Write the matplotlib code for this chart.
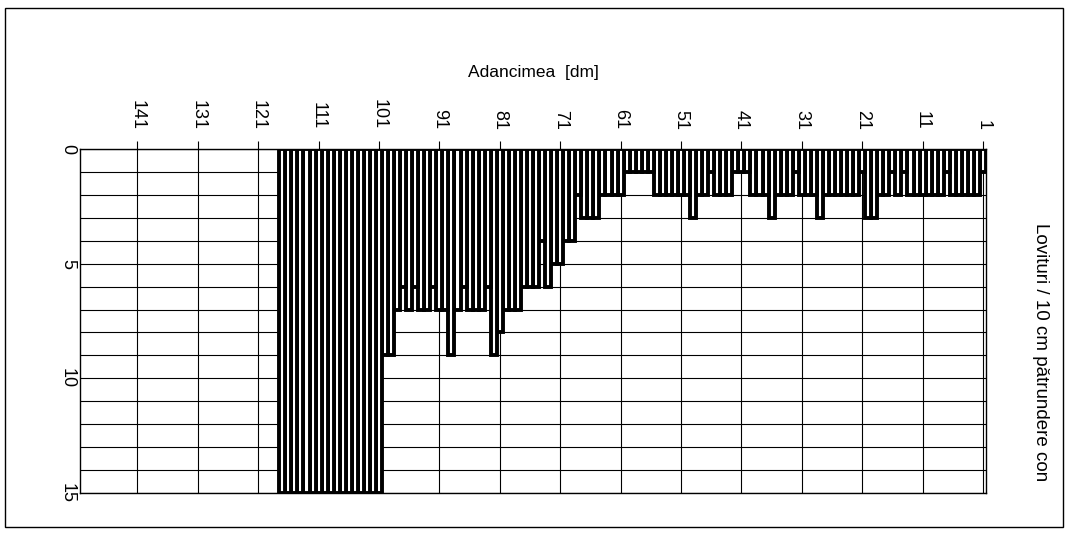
import matplotlib.pyplot as plt
from matplotlib.patches import Rectangle

plt.rcParams['font.family'] = ['Liberation Sans', 'DejaVu Sans']

# depth in dm (1 .. 117) and blows per 10 cm of cone penetration
depth = list(range(1, 118))
blows = [1, 2, 2, 2, 2, 2, 1, 2, 2, 2,
         2, 2, 2, 1, 2, 1, 2, 2, 3, 3,
         1, 2, 2, 2, 2, 2, 2, 3, 2, 2,
         2, 1, 2, 2, 2, 3, 2, 2, 2, 1,
         1, 1, 2, 2, 2, 1, 2, 2, 3, 2,
         2, 2, 2, 2, 2, 1, 1, 1, 1, 1,
         2, 2, 2, 2, 3, 3, 3, 2, 4, 4,
         5, 5, 6, 4, 6, 6, 6, 7, 7, 7,
         8, 9, 6, 7, 7, 7, 6, 7, 9, 7,
         7, 6, 7, 7, 6, 7, 6, 7, 9, 9,
         15, 15, 15, 15, 15, 15, 15, 15, 15, 15,
         15, 15, 15, 15, 15, 15, 15]

depth_ticks = list(range(1, 151, 10))
blow_ticks = [0, 5, 10, 15]

fig = plt.figure(figsize=(10.69, 5.33), dpi=100)
ax = fig.add_axes([80 / 1069, 1 - 493 / 533, 906 / 1069, 344 / 533])

ax.bar(depth, blows, width=1.0, color='white', edgecolor='black',
       linewidth=2.8, zorder=2)

ax.set_xlim(150.5, 0.5)
ax.set_ylim(15, 0)

ax.xaxis.tick_top()
ax.set_xticks(depth_ticks)
ax.set_xticklabels([str(t) for t in depth_ticks], rotation=-90, fontsize=13)
ax.tick_params(axis='x', direction='out', length=6, width=0.8, pad=8)

ax.set_yticks(blow_ticks)
ax.set_yticks(range(1, 15), minor=True)
ax.set_yticklabels([str(t) for t in blow_ticks], rotation=-90, fontsize=13,
                   va='center')
ax.tick_params(axis='y', which='both', length=0, pad=3)

ax.set_axisbelow(True)
ax.grid(axis='x', color='black', linewidth=0.8)
ax.grid(axis='y', which='both', color='black', linewidth=0.8)
for s in ax.spines.values():
    s.set_linewidth(1.0)

fig.text(533 / 1069, 1 - 73 / 533, 'Adancimea  [dm]', ha='center',
         va='center', fontsize=12.5)
fig.text(1040 / 1069, 1 - 352 / 533, 'Lovituri / 10 cm pătrundere con',
         rotation=-90, ha='center', va='center', fontsize=13.5)

# thin frame around the whole sheet
fig.patches.append(Rectangle((5 / 1069, 1 - 527 / 533), 1058 / 1069,
                             519 / 533, transform=fig.transFigure,
                             fill=False, edgecolor='black', linewidth=1.0))

fig.savefig('out.png', dpi=100)
